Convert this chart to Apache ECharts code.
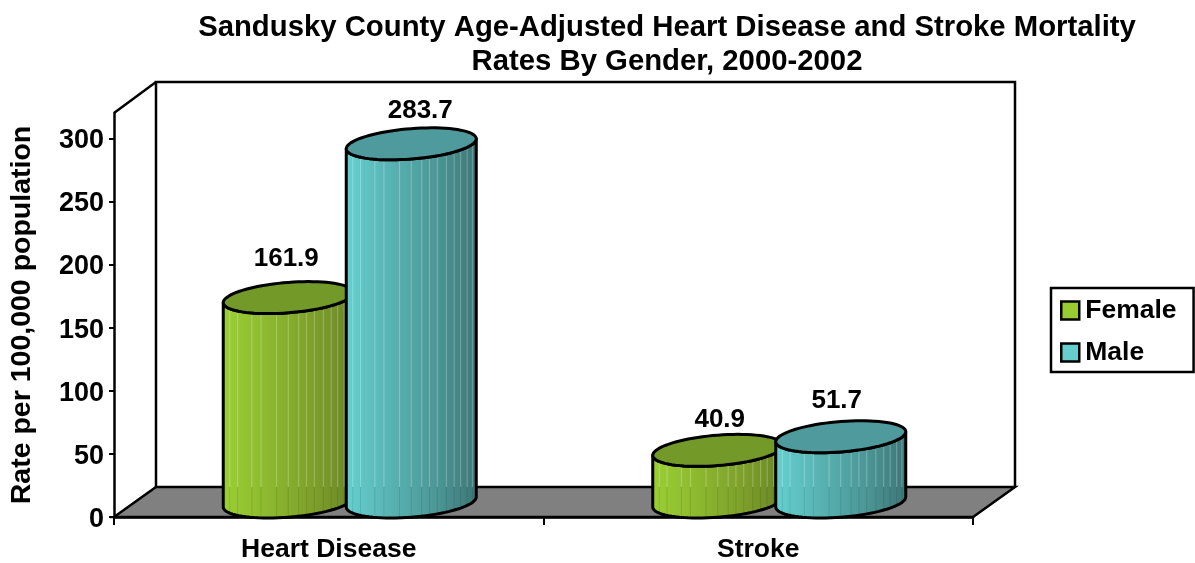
<!DOCTYPE html>
<html>
<head>
<meta charset="utf-8">
<title>Sandusky County mortality</title>
<script src="https://cdn.jsdelivr.net/npm/echarts@6/dist/echarts.min.js"></script>
<style>
html, body { margin: 0; padding: 0; background: #fff; }
#main { width: 1195px; height: 563px; }
</style>
</head>
<body>
<div id="main"></div>
<script>
var categories = ['Heart Disease', 'Stroke'];
var femaleRates = [161.9, 40.9];
var maleRates = [283.7, 51.7];
var yTicks = [0, 50, 100, 150, 200, 250, 300];

// 3d look of the excel chart
var depthX = 42, depthY = 30;
var cylRx = 65, cylRy = 15.2, cylTilt = 5, cylGap = 61.5;
var FONT = '"Liberation Sans", Arial, sans-serif';
var stripes = [0.05, 0.11, 0.22, 0.29, 0.41, 0.5, 0.58, 0.64, 0.7, 0.77, 0.83, 0.88, 0.93, 0.97];
// small label shifts, excel had them placed by hand
var labelNudge = {
    Female: [[-2, -39], [2, -31]],
    Male: [[9, -33], [-4, -36]]
};

var colors = {
    Female: { swatch: '#99CC33', top: '#739A28', stops: ['#9ACF33', '#8CB82F', '#7D9F2B', '#6A8625'] },
    Male: { swatch: '#66CCCC', top: '#4E9A9C', stops: ['#66CFCF', '#58B2B2', '#4C9696', '#3E7777'] }
};

function arcPoints(cx, cy, from, to, n) {
    var pts = [];
    for (var i = 0; i <= n; i++) {
        var t = from + (to - from) * i / n;
        pts.push([cx + cylRx * Math.cos(t), cy - cylRy * Math.sin(t) - cylTilt * Math.cos(t)]);
    }
    return pts;
}

// y of the front edge of an ellipse at a given fraction of its width
function frontY(cy, frac) {
    var c = frac * 2 - 1;
    return cy + cylRy * Math.sqrt(1 - c * c) - cylTilt * c;
}

function cylinderItem(name, shift) {
    return function (params, api) {
        var base = api.coord([api.value(0), 0]);
        var top = api.coord([api.value(0), api.value(1)]);
        var cx = base[0] + depthX / 2 + shift;
        var cyBase = base[1] - depthY / 2;
        var cyTop = top[1] - depthY / 2;
        var floorY = base[1] - depthY;
        var c = colors[name];
        var side = arcPoints(cx, cyTop, 0, -Math.PI, 40)
            .slice(0, 1)
            .concat(arcPoints(cx, cyBase, 0, -Math.PI, 40))
            .concat(arcPoints(cx, cyTop, -Math.PI, 0, 40));
        var kids = [{
            type: 'polygon',
            shape: { points: side },
            style: {
                fill: new echarts.graphic.LinearGradient(0, 0, 1, 0, [
                    { offset: 0, color: c.stops[0] },
                    { offset: 0.35, color: c.stops[1] },
                    { offset: 0.7, color: c.stops[2] },
                    { offset: 1, color: c.stops[3] }
                ])
            }
        }];
        stripes.forEach(function (f) {
            var x = cx - cylRx + f * cylRx * 2;
            var y1 = frontY(cyTop, f);
            var y2 = frontY(cyBase, f);
            var mid = Math.max(y1, Math.min(y2, floorY));
            kids.push({
                type: 'line',
                shape: { x1: x, y1: y1, x2: x, y2: mid },
                style: { stroke: 'rgba(255,255,255,0.28)', lineWidth: 1 }
            });
            kids.push({
                type: 'line',
                shape: { x1: x, y1: mid, x2: x, y2: y2 },
                style: { stroke: 'rgba(0,0,0,0.1)', lineWidth: 1 }
            });
        });
        kids.push({
            type: 'polygon',
            shape: { points: side },
            style: { fill: 'none', stroke: '#000', lineWidth: 3, lineJoin: 'round' }
        });
        kids.push({
            type: 'polygon',
            shape: { points: arcPoints(cx, cyTop, 0, Math.PI * 2, 80) },
            style: { fill: c.top, stroke: '#000', lineWidth: 3 }
        });
        var nudge = labelNudge[name][params.dataIndex];
        kids.push({
            type: 'text',
            style: {
                text: api.value(1).toFixed(1),
                x: cx + nudge[0],
                y: cyTop + nudge[1],
                fill: '#000',
                font: 'bold 26px ' + FONT,
                textAlign: 'center',
                textVerticalAlign: 'middle'
            }
        });
        return { type: 'group', children: kids };
    };
}

function frameItem(params, api) {
    var g = params.coordSys;
    var l = g.x, r = g.x + g.width, t = g.y, b = g.y + g.height;
    var line = { stroke: '#000', lineWidth: 2.5, fill: 'none' };
    return {
        type: 'group',
        children: [
            {
                type: 'polygon',
                shape: { points: [[l, b], [r, b], [r + depthX, b - depthY], [l + depthX, b - depthY]] },
                style: { fill: '#808080', stroke: '#000', lineWidth: 2.5 }
            },
            {
                type: 'polyline',
                shape: { points: [[l + depthX, b - depthY], [l + depthX, t - depthY - 1], [r + depthX, t - depthY - 1], [r + depthX, b - depthY]] },
                style: line
            },
            {
                type: 'line',
                shape: { x1: l, y1: t, x2: l + depthX, y2: t - depthY - 1 },
                style: line
            }
        ]
    };
}

function toData(values) {
    return values.map(function (v, i) { return [i, v]; });
}

var myChart = echarts.init(document.getElementById('main'));
var option = {
    backgroundColor: '#fff',
    animation: false,
    title: {
        text: 'Sandusky County Age-Adjusted Heart Disease and Stroke Mortality\nRates By Gender, 2000-2002',
        left: 662,
        top: 6,
        textAlign: 'center',
        textStyle: { fontFamily: FONT, fontWeight: 'bold', fontSize: 29.3, lineHeight: 34, color: '#000' }
    },
    legend: {
        data: ['Female', 'Male'],
        orient: 'vertical',
        left: 1051,
        top: 288,
        padding: [9, 17, 6, 9],
        borderColor: '#000',
        borderWidth: 2.5,
        itemWidth: 18,
        itemHeight: 18,
        itemGap: 15,
        icon: 'rect',
        itemStyle: { borderColor: '#000', borderWidth: 2.5 },
        textStyle: { fontFamily: FONT, fontWeight: 'bold', fontSize: 26.5, color: '#000', padding: [0, 0, 0, 1] }
    },
    grid: { left: 114, top: 113, width: 859, height: 404 },
    xAxis: {
        type: 'category',
        data: categories,
        axisLine: { lineStyle: { color: '#000', width: 2.5 } },
        axisTick: { show: true, length: 8, lineStyle: { color: '#000', width: 2 } },
        axisLabel: { margin: 19, color: '#000', fontFamily: FONT, fontWeight: 'bold', fontSize: 26.5 }
    },
    yAxis: {
        type: 'value',
        min: 0,
        max: 320,
        name: 'Rate per 100,000 population',
        nameLocation: 'middle',
        nameGap: 77,
        nameTextStyle: { fontFamily: FONT, fontWeight: 'bold', fontSize: 28.5, color: '#000' },
        splitLine: { show: false },
        axisLine: { show: true, lineStyle: { color: '#000', width: 2.5 } },
        axisTick: { show: true, length: 5, customValues: yTicks, lineStyle: { color: '#000', width: 2 } },
        axisLabel: {
            margin: 10,
            customValues: yTicks,
            formatter: '{v|{value}}',
            rich: { v: { color: '#000', fontFamily: FONT, fontWeight: 'bold', fontSize: 27, padding: [5, 0, 0, 0] } }
        }
    },
    series: [
        {
            name: 'frame',
            type: 'custom',
            silent: true,
            z: 1,
            data: [[0, 0]],
            renderItem: frameItem
        },
        {
            name: 'Female',
            type: 'custom',
            z: 2,
            itemStyle: { color: colors.Female.swatch },
            data: toData(femaleRates),
            encode: { x: 0, y: 1 },
            renderItem: cylinderItem('Female', -cylGap)
        },
        {
            name: 'Male',
            type: 'custom',
            z: 3,
            itemStyle: { color: colors.Male.swatch },
            data: toData(maleRates),
            encode: { x: 0, y: 1 },
            renderItem: cylinderItem('Male', cylGap)
        }
    ]
};
myChart.setOption(option);
</script>
</body>
</html>
